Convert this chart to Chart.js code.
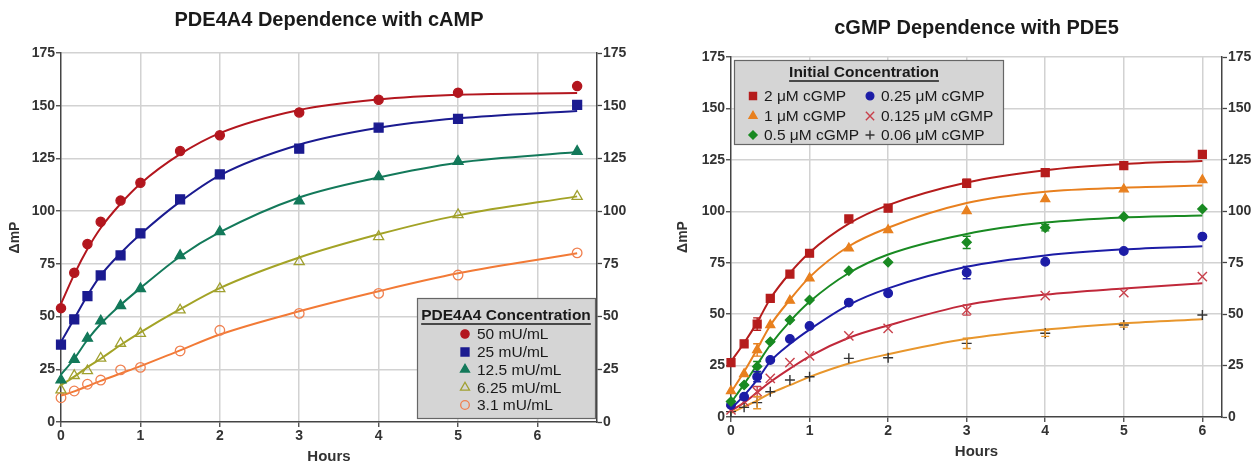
<!DOCTYPE html>
<html>
<head>
<meta charset="utf-8">
<script src="https://cdn.jsdelivr.net/npm/chart.js@4.4.0/dist/chart.umd.min.js"></script>
<style>
  html, body { margin: 0; padding: 0; background: #fff; }
  #wrap { position: relative; width: 1254px; height: 466px; }
  .box { position: absolute; top: 0; width: 627px; height: 466px; }
  #left-box { left: 0; }
  #right-box { left: 627px; }
</style>
</head>
<body>
<div id="wrap">
  <div class="box" id="left-box"><canvas id="camp"></canvas></div>
  <div class="box" id="right-box"><canvas id="cgmp"></canvas></div>
</div>
<script>
"use strict";

// ---------- PDE4A4 dependence with cAMP ----------
const campHours = [0, 0.167, 0.333, 0.5, 0.75, 1, 1.5, 2, 3, 4, 5, 6.5];
const camp50 = [54, 70.8, 84.4, 95, 105, 113.5, 128.5, 136, 146.8, 152.8, 156.2, 159.3];
const camp25 = [36.7, 48.7, 59.7, 69.5, 79, 89.5, 105.6, 117.4, 129.6, 139.6, 143.8, 150.4];
const camp12 = [19.9, 29.7, 39.7, 47.9, 55.2, 63.2, 78.9, 90.2, 104.8, 116.3, 123.6, 128.3];
const camp6 = [15.2, 22, 24.3, 30.2, 37.3, 42, 53.1, 63.2, 76, 87.9, 98.3, 107];
const camp3 = [11.5, 14.7, 17.9, 19.9, 24.7, 25.9, 33.7, 43.5, 51.5, 61, 69.7, 80.2];

// fitted curves at the same hours
const campFit50 = [56, 70, 82, 92, 103.5, 113, 127, 137, 148, 153, 155.2, 156];
const campFit25 = [38, 49, 60, 69.5, 80, 89, 104.5, 117, 131.5, 139.5, 144, 147.5];
const campFit12 = [22.5, 30, 39, 46.5, 55.5, 63.5, 78.5, 90, 106.5, 116, 123, 128];
const campFit6 = [17.5, 21.5, 26, 30, 36.5, 42.5, 53.5, 63.5, 78, 89, 98, 107];
const campFit3 = [12.5, 14.5, 17, 19.5, 23, 26.5, 34, 41.5, 52.5, 62, 70.5, 80];

const campLabels = ["50 mU/mL", "25 mU/mL", "12.5 mU/mL", "6.25 mU/mL", "3.1 mU/mL"];

// ---------- cGMP dependence with PDE5 ----------
const cgmpHours = [0, 0.167, 0.333, 0.5, 0.75, 1, 1.5, 2, 3, 4, 5, 6];
const cgmp2 = [26.4, 35.6, 45.2, 57.7, 69.5, 79.6, 96.3, 101.5, 113.6, 118.8, 122.2, 127.7];
const cgmp1 = [12.6, 20.9, 32.6, 44.7, 56.6, 67.4, 82, 90.9, 100.1, 106, 110.7, 115.2];
const cgmp05 = [7.5, 15.6, 24.5, 36.6, 47.2, 56.9, 71.1, 75.2, 84.9, 92, 97.4, 101.1];
const cgmp025 = [5.8, 9.9, 19.6, 27.7, 37.9, 44.2, 55.6, 60.1, 70.2, 75.5, 80.7, 87.7];
const cgmp0125 = [3.4, 7.5, 12.3, 18.8, 26.4, 29.7, 39.4, 43.1, 52, 59, 60.4, 68.2];
const cgmp006 = [2.6, 4.7, 7, 12.3, 18, 19.6, 28.5, 28.8, 35.8, 40.7, 44.7, 49.6];

const cgmpErr2 = [0, 0, 3, 0, 0, 0, 0, 0, 2, 0, 0, 0];
const cgmpErr1 = [0, 0, 3, 0, 0, 0, 0, 0, 0, 0, 0, 0];
const cgmpErr05 = [0, 0, 2.5, 0, 0, 0, 0, 0, 3, 1.5, 0, 0];
const cgmpErr025 = [0, 0, 2.5, 0, 0, 0, 0, 0, 3, 0, 0, 0];
const cgmpErr0125 = [0, 0, 2.5, 0, 0, 0, 0, 0, 2.5, 0, 0, 0];
const cgmpErr006 = [0, 0, 3, 0, 0, 0, 0, 0, 2.5, 1.5, 1, 0];

const cgmpFit2 = [27, 36, 46, 57.5, 70, 80, 94, 103, 114, 120, 123, 124.5];
const cgmpFit1 = [12, 22, 33, 44.5, 57, 68, 83, 92, 104, 109.5, 111.5, 112.5];
const cgmpFit05 = [7, 16, 25.5, 35, 46.5, 56, 70, 79, 89, 94.5, 97, 98];
const cgmpFit025 = [4, 10.5, 18, 27, 35.5, 42.5, 54.5, 62.5, 73, 78.5, 81.5, 83];
const cgmpFit0125 = [3, 7, 12, 17, 23.5, 29.5, 38.5, 44.5, 54.5, 59.5, 62.5, 65];
const cgmpFit006 = [2, 5, 8, 11.5, 15.5, 19.5, 26, 30.5, 38, 42.5, 45.5, 47.5];

const cgmpLabels = ["2 \u03BCM cGMP", "1 \u03BCM cGMP", "0.5 \u03BCM cGMP",
                    "0.25 \u03BCM cGMP", "0.125 \u03BCM cGMP", "0.06 \u03BCM cGMP"];

const yTicks = [0, 25, 50, 75, 100, 125, 150, 175];

const FONT = "'Liberation Sans', Arial, sans-serif";
Chart.defaults.font.family = FONT;
Chart.defaults.color = "#333";

function toPoints(xs, ys)
{
    return xs.map((x, i) => ({x: x, y: ys[i]}));
}

function markers(label, xs, ys, style, color, fill, radius, extra)
{
    return Object.assign({
        label: label,
        data: toPoints(xs, ys),
        showLine: false,
        pointStyle: style,
        pointRadius: radius,
        pointHoverRadius: radius,
        pointBorderWidth: 1.3,
        borderWidth: 1.3,
        borderColor: color,
        backgroundColor: fill,
        pointBackgroundColor: fill,
        pointBorderColor: color,
        clip: false,
        order: 0
    }, extra || {});
}

function fitLine(xs, ys, color)
{
    return {
        data: toPoints(xs, ys),
        showLine: true,
        pointRadius: 0,
        pointHoverRadius: 0,
        borderColor: color,
        borderWidth: 2,
        cubicInterpolationMode: "monotone",
        fill: false,
        clip: false,
        order: 1
    };
}

// vertical error bars drawn through the chart's own scales
const errorBars = {
    id: "errorBars",
    afterDatasetsDraw(chart)
    {
        const ctx = chart.ctx;
        const xs = chart.scales.x;
        const ys = chart.scales.y;
        chart.data.datasets.forEach(ds => {
            if (!ds.errors)
                return;
            ctx.save();
            ctx.strokeStyle = ds.errorColor || ds.borderColor;
            ctx.lineWidth = 1.4;
            ds.data.forEach((p, i) => {
                const e = ds.errors[i];
                if (!e)
                    return;
                const px = xs.getPixelForValue(p.x);
                const lo = ys.getPixelForValue(p.y - e);
                const hi = ys.getPixelForValue(p.y + e);
                ctx.beginPath();
                ctx.moveTo(px, lo); ctx.lineTo(px, hi);
                ctx.moveTo(px - 4, lo); ctx.lineTo(px + 4, lo);
                ctx.moveTo(px - 4, hi); ctx.lineTo(px + 4, hi);
                ctx.stroke();
            });
            ctx.restore();
        });
    }
};

// grey boxed legend with an underlined heading
const boxLegend = {
    id: "boxLegend",
    afterDraw(chart, args, opts)
    {
        if (!opts || !opts.items)
            return;
        const ctx = chart.ctx;
        ctx.save();
        ctx.fillStyle = "#d5d5d5";
        ctx.fillRect(opts.left, opts.top, opts.width, opts.height);
        ctx.strokeStyle = "#666";
        ctx.lineWidth = 1.2;
        ctx.strokeRect(opts.left + 0.5, opts.top + 0.5, opts.width, opts.height);

        ctx.fillStyle = "#1a1a1a";
        ctx.font = "bold 15.5px " + FONT;
        ctx.textAlign = "center";
        ctx.textBaseline = "middle";
        ctx.fillText(opts.title, opts.titleX, opts.titleY);
        const tw = ctx.measureText(opts.title).width;
        ctx.strokeStyle = "#1a1a1a";
        ctx.lineWidth = 1.3;
        ctx.beginPath();
        ctx.moveTo(opts.titleX - tw / 2, opts.titleY + 8);
        ctx.lineTo(opts.titleX + tw / 2, opts.titleY + 8);
        ctx.stroke();

        ctx.font = "15.5px " + FONT;
        ctx.textAlign = "left";
        opts.items.forEach(item => {
            const ds = chart.data.datasets[item.dataset];
            ctx.fillStyle = ds.backgroundColor;
            ctx.strokeStyle = ds.borderColor;
            ctx.lineWidth = ds.borderWidth;
            Chart.helpers.drawPoint(ctx, {
                pointStyle: ds.pointStyle,
                radius: ds.pointRadius * 0.9,
                borderWidth: ds.borderWidth,
                rotation: 0
            }, item.x, item.y);
            ctx.fillStyle = "#1a1a1a";
            ctx.fillText(ds.label, item.x + opts.gap, item.y + 1);
        });
        ctx.restore();
    }
};

function gridColor(ctx)
{
    return ctx.tick && ctx.tick.value === 0 ? "rgba(0,0,0,0)" : "#d2d2d2";
}

function buildOptions(cfg)
{
    const tickFont = {size: 14, weight: "bold"};
    return {
        responsive: true,
        maintainAspectRatio: false,
        animation: false,
        devicePixelRatio: 1,
        layout: {padding: 0},
        plugins: {
            legend: {display: false},
            tooltip: {enabled: false},
            title: {
                display: true,
                text: cfg.title,
                fullSize: false,
                color: "#1a1a1a",
                font: {size: 20, weight: "bold"},
                padding: {top: cfg.titleTop, bottom: cfg.titleBottom}
            },
            boxLegend: cfg.legend
        },
        scales: {
            x: {
                type: "linear",
                min: 0,
                max: cfg.xMax,
                afterFit(scale) { scale.height = cfg.xHeight; },
                ticks: {stepSize: 1, includeBounds: false, font: tickFont, color: "#333", padding: 1},
                grid: {color: gridColor, lineWidth: 1.5, tickColor: "#444", tickLength: 5, tickWidth: 1.3},
                border: {color: "#444", width: 1.5},
                title: {
                    display: true, text: "Hours", color: "#333",
                    font: {size: 15, weight: "bold"},
                    padding: {top: 0, bottom: cfg.hoursBottom}
                }
            },
            y: {
                type: "linear",
                position: "left",
                min: 0,
                max: 175,
                afterFit(scale) { scale.width = cfg.yLeft; },
                afterBuildTicks(scale) { scale.ticks = yTicks.map(v => ({value: v})); },
                ticks: {font: tickFont, color: "#333", padding: 1},
                grid: {color: gridColor, lineWidth: 1.5, tickColor: "#444", tickLength: 5, tickWidth: 1.3},
                border: {color: "#444", width: 1.5},
                title: {
                    display: true, text: "\u0394mP", color: "#333",
                    font: {size: 14, weight: "bold"},
                    padding: {top: cfg.dmpLeft, bottom: 0}
                }
            },
            y2: {
                type: "linear",
                position: "right",
                min: 0,
                max: 175,
                afterFit(scale) { scale.width = cfg.yRight; },
                afterBuildTicks(scale) { scale.ticks = yTicks.map(v => ({value: v})); },
                ticks: {font: tickFont, color: "#333", padding: 1},
                grid: {drawOnChartArea: false, tickColor: "#444", tickLength: 5, tickWidth: 1.3},
                border: {color: "#444", width: 1.5}
            }
        }
    };
}

// left chart
const campColors = {
    red: "#b3161e", blue: "#1b1b90", green: "#13795a", olive: "#a3a326", orange: "#f27a36"
};

new Chart(document.getElementById("camp"), {
    type: "scatter",
    data: {
        datasets: [
            markers(campLabels[0], campHours, camp50, "circle", campColors.red, campColors.red, 4.6),
            markers(campLabels[1], campHours, camp25, "rect", campColors.blue, campColors.blue, 6.3),
            markers(campLabels[2], campHours, camp12, "triangle", campColors.green, campColors.green, 5.8),
            markers(campLabels[3], campHours, camp6, "triangle", "#a0a030", "rgba(255,255,255,0)", 5.8),
            markers(campLabels[4], campHours, camp3, "circle", "#f08050", "rgba(255,255,255,0)", 4.8),
            fitLine(campHours, campFit50, campColors.red),
            fitLine(campHours, campFit25, campColors.blue),
            fitLine(campHours, campFit12, campColors.green),
            fitLine(campHours, campFit6, campColors.olive),
            fitLine(campHours, campFit3, campColors.orange)
        ]
    },
    options: buildOptions({
        title: "PDE4A4 Dependence with cAMP",
        titleTop: 8, titleBottom: 21,
        xMax: 6.75, xHeight: 44, hoursBottom: 0,
        yLeft: 61, yRight: 30, dmpLeft: 7,
        legend: {
            left: 417, top: 298, width: 178, height: 120,
            title: "PDE4A4 Concentration", titleX: 506, titleY: 316,
            gap: 12,
            items: [
                {dataset: 0, x: 465, y: 334},
                {dataset: 1, x: 465, y: 352},
                {dataset: 2, x: 465, y: 369.5},
                {dataset: 3, x: 465, y: 387.5},
                {dataset: 4, x: 465, y: 405}
            ]
        }
    }),
    plugins: [boxLegend]
});

// right chart
const cgmpColors = {
    red: "#b51c1c", orange: "#e8801f", green: "#198a22", blue: "#1c1ca6",
    rose: "#c8404b", roseLine: "#c0283a", plus: "#333333", plusLine: "#e8962c"
};

new Chart(document.getElementById("cgmp"), {
    type: "scatter",
    data: {
        datasets: [
            markers(cgmpLabels[0], cgmpHours, cgmp2, "rect", cgmpColors.red, cgmpColors.red, 5.6,
                    {errors: cgmpErr2}),
            markers(cgmpLabels[1], cgmpHours, cgmp1, "triangle", cgmpColors.orange, cgmpColors.orange, 5.2,
                    {errors: cgmpErr1}),
            markers(cgmpLabels[2], cgmpHours, cgmp05, "rectRot", cgmpColors.green, cgmpColors.green, 4.6,
                    {errors: cgmpErr05}),
            markers(cgmpLabels[3], cgmpHours, cgmp025, "circle", cgmpColors.blue, cgmpColors.blue, 4.3,
                    {errors: cgmpErr025}),
            markers(cgmpLabels[4], cgmpHours, cgmp0125, "crossRot", cgmpColors.rose, cgmpColors.rose, 6.5,
                    {errors: cgmpErr0125, borderWidth: 1.4, pointBorderWidth: 1.4}),
            markers(cgmpLabels[5], cgmpHours, cgmp006, "cross", cgmpColors.plus, cgmpColors.plus, 5,
                    {errors: cgmpErr006, errorColor: cgmpColors.plusLine, borderWidth: 1.4, pointBorderWidth: 1.4}),
            fitLine(cgmpHours, cgmpFit2, cgmpColors.red),
            fitLine(cgmpHours, cgmpFit1, cgmpColors.orange),
            fitLine(cgmpHours, cgmpFit05, cgmpColors.green),
            fitLine(cgmpHours, cgmpFit025, cgmpColors.blue),
            fitLine(cgmpHours, cgmpFit0125, cgmpColors.roseLine),
            fitLine(cgmpHours, cgmpFit006, cgmpColors.plusLine)
        ]
    },
    options: buildOptions({
        title: "cGMP Dependence with PDE5",
        titleTop: 16, titleBottom: 17,
        xMax: 6.25, xHeight: 49, hoursBottom: 5,
        yLeft: 104, yRight: 32, dmpLeft: 48,
        legend: {
            left: 107, top: 60, width: 269, height: 84,
            title: "Initial Concentration", titleX: 237, titleY: 73,
            gap: 11,
            items: [
                {dataset: 0, x: 126, y: 96},
                {dataset: 1, x: 126, y: 116},
                {dataset: 2, x: 126, y: 135},
                {dataset: 3, x: 243, y: 96},
                {dataset: 4, x: 243, y: 116},
                {dataset: 5, x: 243, y: 135}
            ]
        }
    }),
    plugins: [errorBars, boxLegend]
});
</script>
</body>
</html>
